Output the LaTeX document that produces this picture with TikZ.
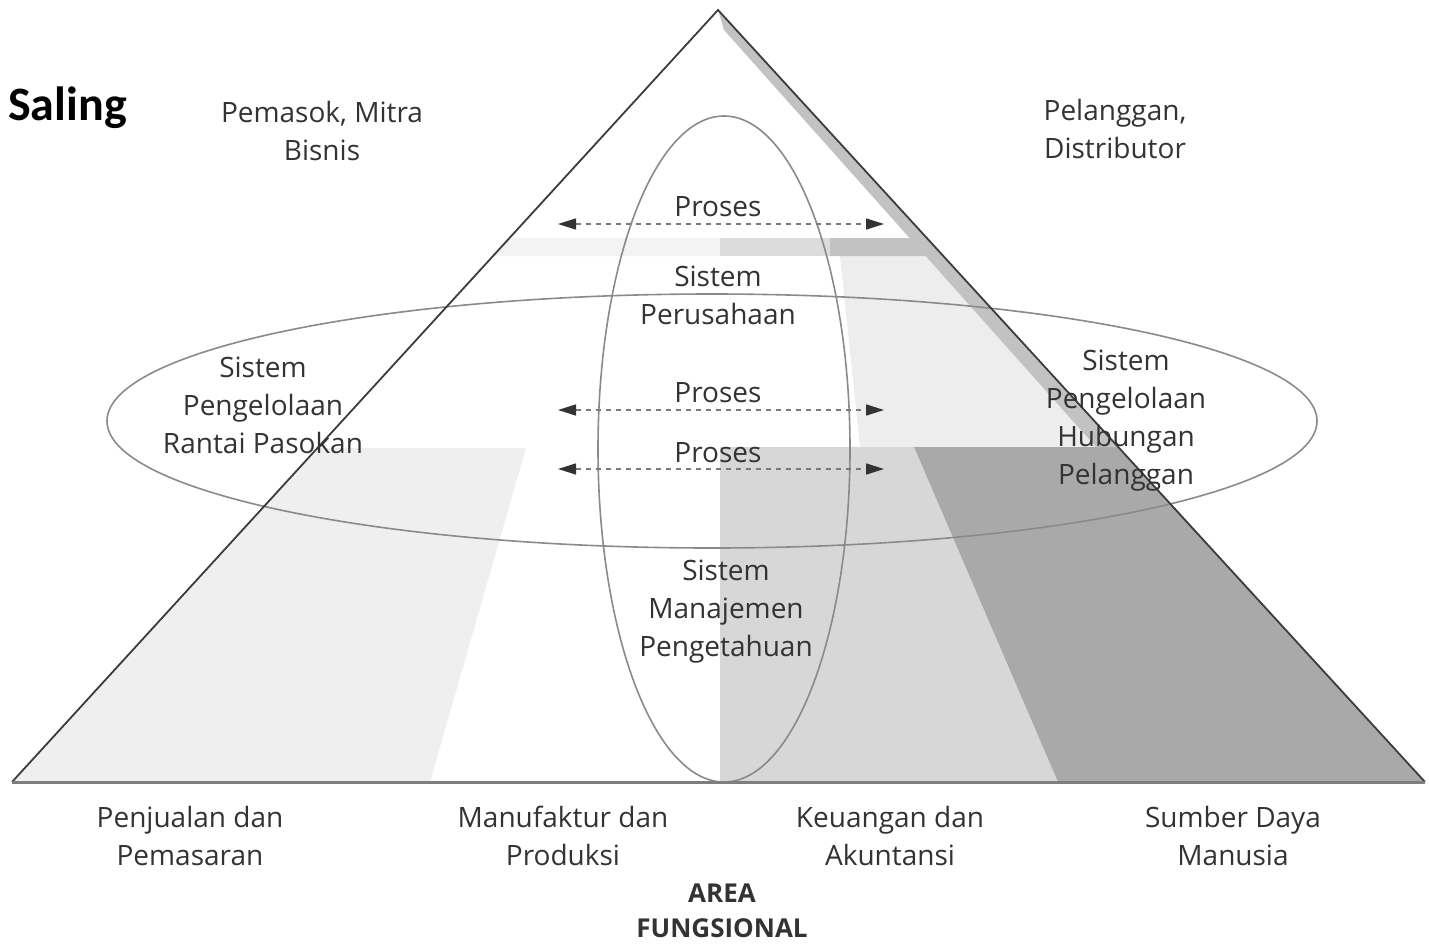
\documentclass[tikz,border=0pt]{standalone}
\usepackage{fontspec}
\setmainfont{Open Sans}
\newfontfamily\headfont{Carlito}
\usetikzlibrary{arrows.meta}
\definecolor{txt}{HTML}{333333}
\definecolor{edgegray}{HTML}{3C3C3C}
\definecolor{basegray}{HTML}{7E7E7E}
\definecolor{ringgray}{HTML}{8A8A8A}
\definecolor{dashgray}{HTML}{7A7A7A}
\definecolor{tipgray}{HTML}{333333}
\definecolor{shadeA}{HTML}{F3F3F3}
\definecolor{shadeB}{HTML}{EDEDED}
\definecolor{shadeC}{HTML}{D7D7D7}
\definecolor{shadeD}{HTML}{A9A9A9}
\definecolor{shadeE}{HTML}{C2C2C2}
\definecolor{shadeF}{HTML}{DCDCDC}
\definecolor{shadeG}{HTML}{EFEFEF}
\begin{document}
\begin{tikzpicture}[x=1pt,y=-1pt,
  lbl/.style={text=txt, align=center, inner sep=0pt, font=\fontsize{28}{38}\selectfont},
  arealbl/.style={text=txt, align=center, inner sep=0pt, font=\bfseries\fontsize{26}{35}\selectfont},
  ring/.style={draw=ringgray, line width=1.6pt},
  flow/.style={draw=dashgray, line width=1.6pt, dash pattern=on 5pt off 5pt,
    {Triangle[length=18pt,width=11pt,color=tipgray]}-{Triangle[length=18pt,width=11pt,color=tipgray]}}
]
\useasboundingbox (0,0) rectangle (1429,945);

% pyramid corners
\coordinate (A) at (718,10);
\coordinate (BL) at (12,782);
\coordinate (BR) at (1425,782);

% shaded faces
\fill[shadeG] (317,448) -- (526,448) -- (430,782) -- (BL) -- cycle;
\fill[shadeA] (509,238) -- (720,238) -- (720,256) -- (493,256) -- cycle;
\fill[shadeB] (840,256) -- (943,256) -- (1118,447) -- (860,447) -- cycle;
\fill[shadeC] (720,447) -- (914,447) -- (1058,782) -- (720,782) -- cycle;
\fill[shadeD] (914,447) -- (1118,447) -- (BR) -- (1058,782) -- cycle;
\fill[shadeE] (A) -- (1118,447) -- (1096,447) -- (724,30) -- cycle;
\fill[shadeF] (720,238) -- (830,238) -- (830,256) -- (720,256) -- cycle;
\fill[shadeE] (830,238) -- (927,238) -- (943,256) -- (830,256) -- cycle;

% enterprise system rings
\draw[ring] (712,421) ellipse [x radius=605pt, y radius=127pt];
\draw[ring] (724,449) ellipse [x radius=126pt, y radius=333pt];

% pyramid outline
\draw[edgegray, line width=1.8pt] (BL) -- (A) -- (BR);
\draw[basegray, line width=3pt] (BL) -- (BR);

% process flows
\coordinate (f1l) at (558,224);
\coordinate (f1r) at (884,224);
\coordinate (f2l) at (558,410);
\coordinate (f2r) at (884,410);
\coordinate (f3l) at (558,469);
\coordinate (f3r) at (884,469);
\draw[flow] (f1l) -- (f1r);
\draw[flow] (f2l) -- (f2r);
\draw[flow] (f3l) -- (f3r);

% labels
\node[anchor=base west, inner sep=0pt, font=\headfont\bfseries\fontsize{48}{58}\selectfont] (saling) at (8,120) {Saling};
\node[lbl] (supp) at (322,131) {Pemasok, Mitra\\Bisnis};
\node[lbl] (cust) at (1115,129) {Pelanggan,\\Distributor};
\node[lbl] (pr1) at (718,207) {Proses};
\node[lbl] (erp) at (718,295) {Sistem\\Perusahaan};
\node[lbl] (pr2) at (718,393) {Proses};
\node[lbl] (pr3) at (718,453) {Proses};
\node[lbl] (scm) at (263,405) {Sistem\\Pengelolaan\\Rantai Pasokan};
\node[lbl] (crm) at (1126,421) {Sistem\\Pengelolaan\\Hubungan\\Pelanggan};
\node[lbl] (kms) at (726,612) {Sistem\\Manajemen\\Pengetahuan};
\node[lbl] (fa1) at (190,836) {Penjualan dan\\Pemasaran};
\node[lbl] (fa2) at (563,836) {Manufaktur dan\\Produksi};
\node[lbl] (fa3) at (890,836) {Keuangan dan\\Akuntansi};
\node[lbl] (fa4) at (1233,836) {Sumber Daya\\Manusia};
\node[arealbl] (area) at (722,911) {AREA\\FUNGSIONAL};
\end{tikzpicture}
\end{document}
